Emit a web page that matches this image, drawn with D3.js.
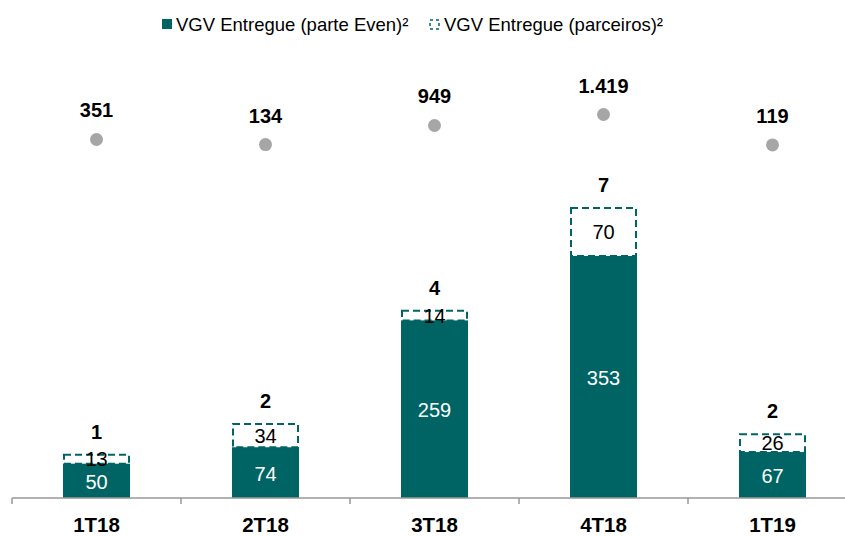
<!DOCTYPE html>
<html>
<head>
<meta charset="utf-8">
<script src="https://cdn.jsdelivr.net/npm/d3@7"></script>
<style>
  body { margin: 0; background: #fff; }
  svg { font-family: "Liberation Sans", Arial, sans-serif; }
</style>
</head>
<body>
<svg id="chart" width="845" height="536"></svg>
<script>
// quarters and values
var quarters = ['1T18', '2T18', '3T18', '4T18', '1T19'];
var parteEven = [50, 74, 259, 353, 67];
var parceiros = [13, 34, 14, 70, 26];
var empreend = [1, 2, 4, 7, 2];
var vgvTotal = [351, 134, 949, 1419, 119];
var vgvLabels = ['351', '134', '949', '1.419', '119'];

var teal = '#006464';
var svg = d3.select('#chart');

var x = d3.scaleBand().domain(quarters).range([12, 857]).paddingInner(0).paddingOuter(0);
var y = d3.scaleLinear().domain([0, 700]).range([498, 18]);
// dots sit on their own (secondary) scale
var y2 = d3.scaleLinear().domain([0, 1419]).range([147.7, 114.5]);

var barW = 67;
var rows = quarters.map(function(q, i) {
    return {q: q, even: parteEven[i], parc: parceiros[i], n: empreend[i], tot: vgvTotal[i], lab: vgvLabels[i]};
});
var cx = function(d) { return x(d.q) + x.bandwidth() / 2; };

var g = svg.append('g');

// solid part
g.selectAll('rect.even').data(rows).enter().append('rect')
    .attr('class', 'even')
    .attr('x', function(d) { return cx(d) - barW / 2; })
    .attr('y', function(d) { return y(d.even); })
    .attr('width', barW)
    .attr('height', function(d) { return y(0) - y(d.even); })
    .attr('fill', teal);

// partners part, dashed outline
g.selectAll('rect.parc').data(rows).enter().append('rect')
    .attr('class', 'parc')
    .attr('x', function(d) { return cx(d) - barW / 2 + 1; })
    .attr('y', function(d) { return y(d.even + d.parc); })
    .attr('width', barW - 2)
    .attr('height', function(d) { return y(d.even) - y(d.even + d.parc); })
    .attr('fill', 'none')
    .attr('stroke', teal)
    .attr('stroke-width', 2)
    .attr('stroke-dasharray', '7,4');

// axis
var axis = d3.axisBottom(x).tickSize(0).tickFormat('');
var ax = svg.append('g').attr('transform', 'translate(0,498)').call(axis);
ax.select('.domain').attr('stroke', '#999').attr('stroke-width', 1.5).attr('d', 'M12,0H845');
ax.selectAll('.tick').remove();
var bounds = quarters.map(function(q) { return x(q); });
ax.selectAll('line.sep').data(bounds).enter().append('line')
    .attr('class', 'sep')
    .attr('x1', function(d) { return d; }).attr('x2', function(d) { return d; })
    .attr('y1', 0).attr('y2', 6)
    .attr('stroke', '#999').attr('stroke-width', 1.5);

svg.selectAll('text.cat').data(rows).enter().append('text')
    .attr('class', 'cat')
    .attr('x', cx)
    .attr('y', 532)
    .attr('text-anchor', 'middle')
    .attr('font-size', 20.5).attr('font-weight', 'bold')
    .text(function(d) { return d.q; });

// value labels
g.selectAll('text.ve').data(rows).enter().append('text')
    .attr('x', cx)
    .attr('y', function(d) { return (y(0) + y(d.even)) / 2 + 8; })
    .attr('text-anchor', 'middle').attr('font-size', 20).attr('fill', '#fff')
    .text(function(d) { return d.even; });

g.selectAll('text.vp').data(rows).enter().append('text')
    .attr('x', cx)
    .attr('y', function(d) { return (y(d.even) + y(d.even + d.parc)) / 2 + 7; })
    .attr('text-anchor', 'middle').attr('font-size', 20).attr('fill', '#000')
    .text(function(d) { return d.parc; });

g.selectAll('text.n').data(rows).enter().append('text')
    .attr('x', cx)
    .attr('y', function(d) { return y(d.even + d.parc) - 16; })
    .attr('text-anchor', 'middle').attr('font-size', 20).attr('font-weight', 'bold')
    .text(function(d) { return d.n; });

// grey dots
g.selectAll('circle').data(rows).enter().append('circle')
    .attr('cx', cx)
    .attr('cy', function(d) { return y2(d.tot); })
    .attr('r', 6.5)
    .attr('fill', '#a6a6a6');

g.selectAll('text.tot').data(rows).enter().append('text')
    .attr('x', cx)
    .attr('y', function(d) { return y2(d.tot) - 22; })
    .attr('text-anchor', 'middle').attr('font-size', 20).attr('font-weight', 'bold')
    .text(function(d) { return d.lab; });

// legend
var lg = svg.append('g');
lg.append('rect').attr('x', 162).attr('y', 19).attr('width', 10).attr('height', 10).attr('fill', teal);
lg.append('text').attr('x', 176).attr('y', 31).attr('font-size', 18.5).text('VGV Entregue (parte Even)²');
lg.append('rect').attr('x', 430).attr('y', 20).attr('width', 9).attr('height', 9)
    .attr('fill', 'none').attr('stroke', teal).attr('stroke-width', 1.5).attr('stroke-dasharray', '3,3');
lg.append('text').attr('x', 444).attr('y', 31).attr('font-size', 18.5).text('VGV Entregue (parceiros)²');
</script>
</body>
</html>
